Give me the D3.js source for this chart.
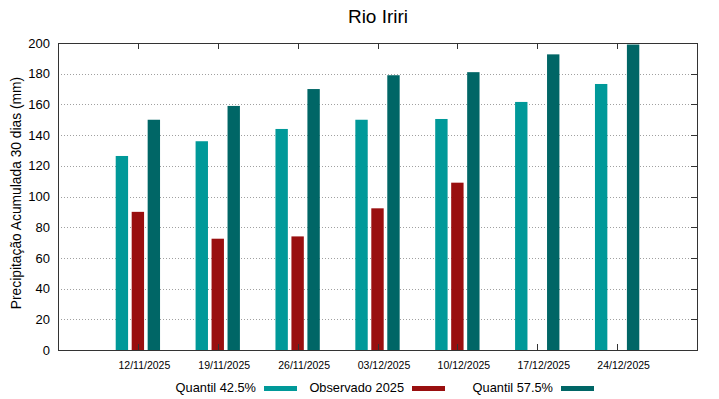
<!DOCTYPE html>
<html>
<head>
<meta charset="utf-8">
<script src="https://cdn.jsdelivr.net/npm/d3@7"></script>
<style>
  body { margin: 0; background: #fff; }
  text { font-family: "Liberation Sans", Arial, sans-serif; }
</style>
</head>
<body>
<svg id="chart" width="719" height="399"></svg>
<script>
// data
var dates = ["12/11/2025", "19/11/2025", "26/11/2025", "03/12/2025", "10/12/2025", "17/12/2025", "24/12/2025"];
var q425 = [126.4, 136, 144, 150, 150.5, 161.6, 173.3];
var obs2025 = [90, 72.5, 74, 92.3, 109, null, null];
var q575 = [150, 159, 170, 179, 181, 192.6, 199];
var yTicks = [0, 20, 40, 60, 80, 100, 120, 140, 160, 180, 200];

var series = [
  { name: "Quantil 42.5%", values: q425, color: "#009999", off: -0.2 },
  { name: "Observado 2025", values: obs2025, color: "#990f0f", off: 0 },
  { name: "Quantil 57.5%", values: q575, color: "#006666", off: 0.2 }
];

var svg = d3.select("#chart");
var pLeft = 58, pRight = 697, pTop = 43, pBottom = 350;

var x = d3.scaleLinear().domain([-1, 7]).range([pLeft, pRight]);
var y = d3.scaleLinear().domain([0, 200]).range([pBottom, pTop]);
var barW = 0.155;

// grid
svg.append("g").selectAll("line")
  .data(yTicks.slice(1, -1))
  .enter().append("line")
  .attr("x1", pLeft).attr("x2", pRight)
  .attr("y1", function(d) { return Math.round(y(d)) + 0.5; })
  .attr("y2", function(d) { return Math.round(y(d)) + 0.5; })
  .attr("stroke", "#a0a0a0")
  .attr("stroke-width", 1)
  .attr("stroke-dasharray", "1,2");

// bars
series.forEach(function(s) {
  svg.append("g").selectAll("rect")
    .data(s.values.map(function(v, i) { return { v: v, i: i }; }).filter(function(d) { return d.v != null; }))
    .enter().append("rect")
    .attr("x", function(d) { return x(d.i + s.off - barW / 2); })
    .attr("width", function(d) { return x(barW) - x(0); })
    .attr("y", function(d) { return y(d.v); })
    .attr("height", function(d) { return y(0) - y(d.v); })
    .attr("fill", s.color);
});

// frame
svg.append("rect")
  .attr("x", pLeft + 0.5).attr("y", pTop + 0.5)
  .attr("width", pRight - pLeft).attr("height", pBottom - pTop)
  .attr("fill", "none").attr("stroke", "#333").attr("stroke-width", 1);

// y axis
var yAxis = d3.axisLeft(y).tickValues(yTicks).tickSize(0).tickPadding(8);
var gy = svg.append("g").attr("transform", "translate(" + pLeft + ",0)").call(yAxis);
gy.select(".domain").remove();
gy.selectAll("text").attr("font-size", 13).attr("fill", "#000")
  .attr("font-family", "Liberation Sans, Arial, sans-serif");

// mirrored y ticks on the right
svg.append("g").selectAll("line")
  .data(yTicks)
  .enter().append("line")
  .attr("x1", pRight).attr("x2", pRight - 6)
  .attr("y1", function(d) { return Math.round(y(d)) + 0.5; })
  .attr("y2", function(d) { return Math.round(y(d)) + 0.5; })
  .attr("stroke", "#333");

// x axis
var xAxis = d3.axisBottom(x).tickValues(d3.range(dates.length))
  .tickFormat(function(d) { return dates[d]; })
  .tickSize(0).tickPadding(12);
var gx = svg.append("g").attr("transform", "translate(0," + pBottom + ")").call(xAxis);
gx.select(".domain").remove();
gx.selectAll("text").attr("font-size", 10.5).attr("fill", "#000").attr("dx", 6)
  .attr("font-family", "Liberation Sans, Arial, sans-serif");

// inward x ticks at top and bottom
svg.append("g").selectAll("line")
  .data(d3.range(dates.length))
  .enter().append("line")
  .attr("x1", function(d) { return Math.round(x(d)) + 0.5; })
  .attr("x2", function(d) { return Math.round(x(d)) + 0.5; })
  .attr("y1", pTop).attr("y2", pTop + 6)
  .attr("stroke", "#333");
svg.append("g").selectAll("line")
  .data(d3.range(dates.length))
  .enter().append("line")
  .attr("x1", function(d) { return Math.round(x(d)) + 0.5; })
  .attr("x2", function(d) { return Math.round(x(d)) + 0.5; })
  .attr("y1", pBottom).attr("y2", pBottom - 6)
  .attr("stroke", "#333");

// title
svg.append("text")
  .attr("x", 378).attr("y", 23)
  .attr("text-anchor", "middle")
  .attr("font-size", 19)
  .text("Rio Iriri");

// y label
svg.append("text")
  .attr("transform", "translate(21,193) rotate(-90)")
  .attr("text-anchor", "middle")
  .attr("font-size", 13.8)
  .text("Precipitação Acumulada 30 dias (mm)");

// legend
var legendX = [256, 404, 553];
series.forEach(function(s, i) {
  var g = svg.append("g");
  g.append("text")
    .attr("x", legendX[i]).attr("y", 392)
    .attr("text-anchor", "end")
    .attr("font-size", 12.8)
    .text(s.name);
  g.append("rect")
    .attr("x", legendX[i] + 8).attr("y", 386)
    .attr("width", 33).attr("height", 5)
    .attr("fill", s.color);
});
</script>
</body>
</html>
